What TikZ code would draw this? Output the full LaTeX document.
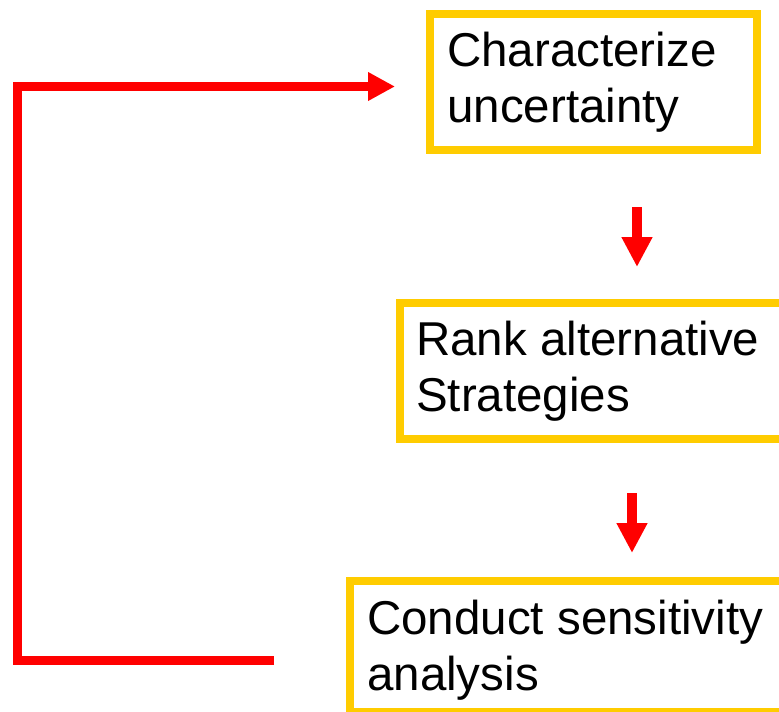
\documentclass[tikz,border=0pt]{standalone}
\usepackage{fontspec}
\setmainfont{Liberation Sans}
\usetikzlibrary{arrows.meta}
\definecolor{boxyellow}{HTML}{FFCC00}
\definecolor{arrred}{HTML}{FF0000}
\begin{document}
\begin{tikzpicture}[x=1pt,y=-1pt,
  stepbox/.style={draw=boxyellow, line width=8pt, fill=none, inner sep=0pt, anchor=north west},
  steptext/.style={anchor=base west, inner sep=0pt, font=\fontsize{47.5}{56}\selectfont, align=left},
  downarrow/.style={draw=arrred, line width=10pt, -{Triangle[length=30pt,width=29pt]}},
  loopline/.style={draw=arrred, line width=9pt, miter limit=10, -{Triangle[length=27pt,width=27pt]}}]
\useasboundingbox (0,0) rectangle (779,712);
\clip (0,0) rectangle (779,712);
% boxes
\node[stepbox, minimum width=327pt, minimum height=136pt] (b1) at (426,10) {};
\node[stepbox, minimum width=400pt, minimum height=136pt] (b2) at (396,299) {};
\node[stepbox, minimum width=450pt, minimum height=131pt] (b3) at (346,577) {};
% texts (anchored at the baseline of the last line)
\node[steptext] (t1) at (447,122) {Characterize\\uncertainty};
\node[steptext] (t2) at (416,411) {Rank alternative\\Strategies};
\node[steptext] (t3) at (367,690) {Conduct sensitivity\\analysis};
% down arrows
\coordinate (a1s) at (637,207);
\coordinate (a1e) at (637,267);
\coordinate (a2s) at (632,493);
\coordinate (a2e) at (632,553);
\draw[downarrow] (a1s) -- (a1e);
\draw[downarrow] (a2s) -- (a2e);
% feedback loop
\coordinate (ls) at (274,660);
\coordinate (le) at (395,86.5);
\draw[loopline] (ls) -- (17.5,660) -- (17.5,86.5) -- (le);
\end{tikzpicture}
\end{document}
